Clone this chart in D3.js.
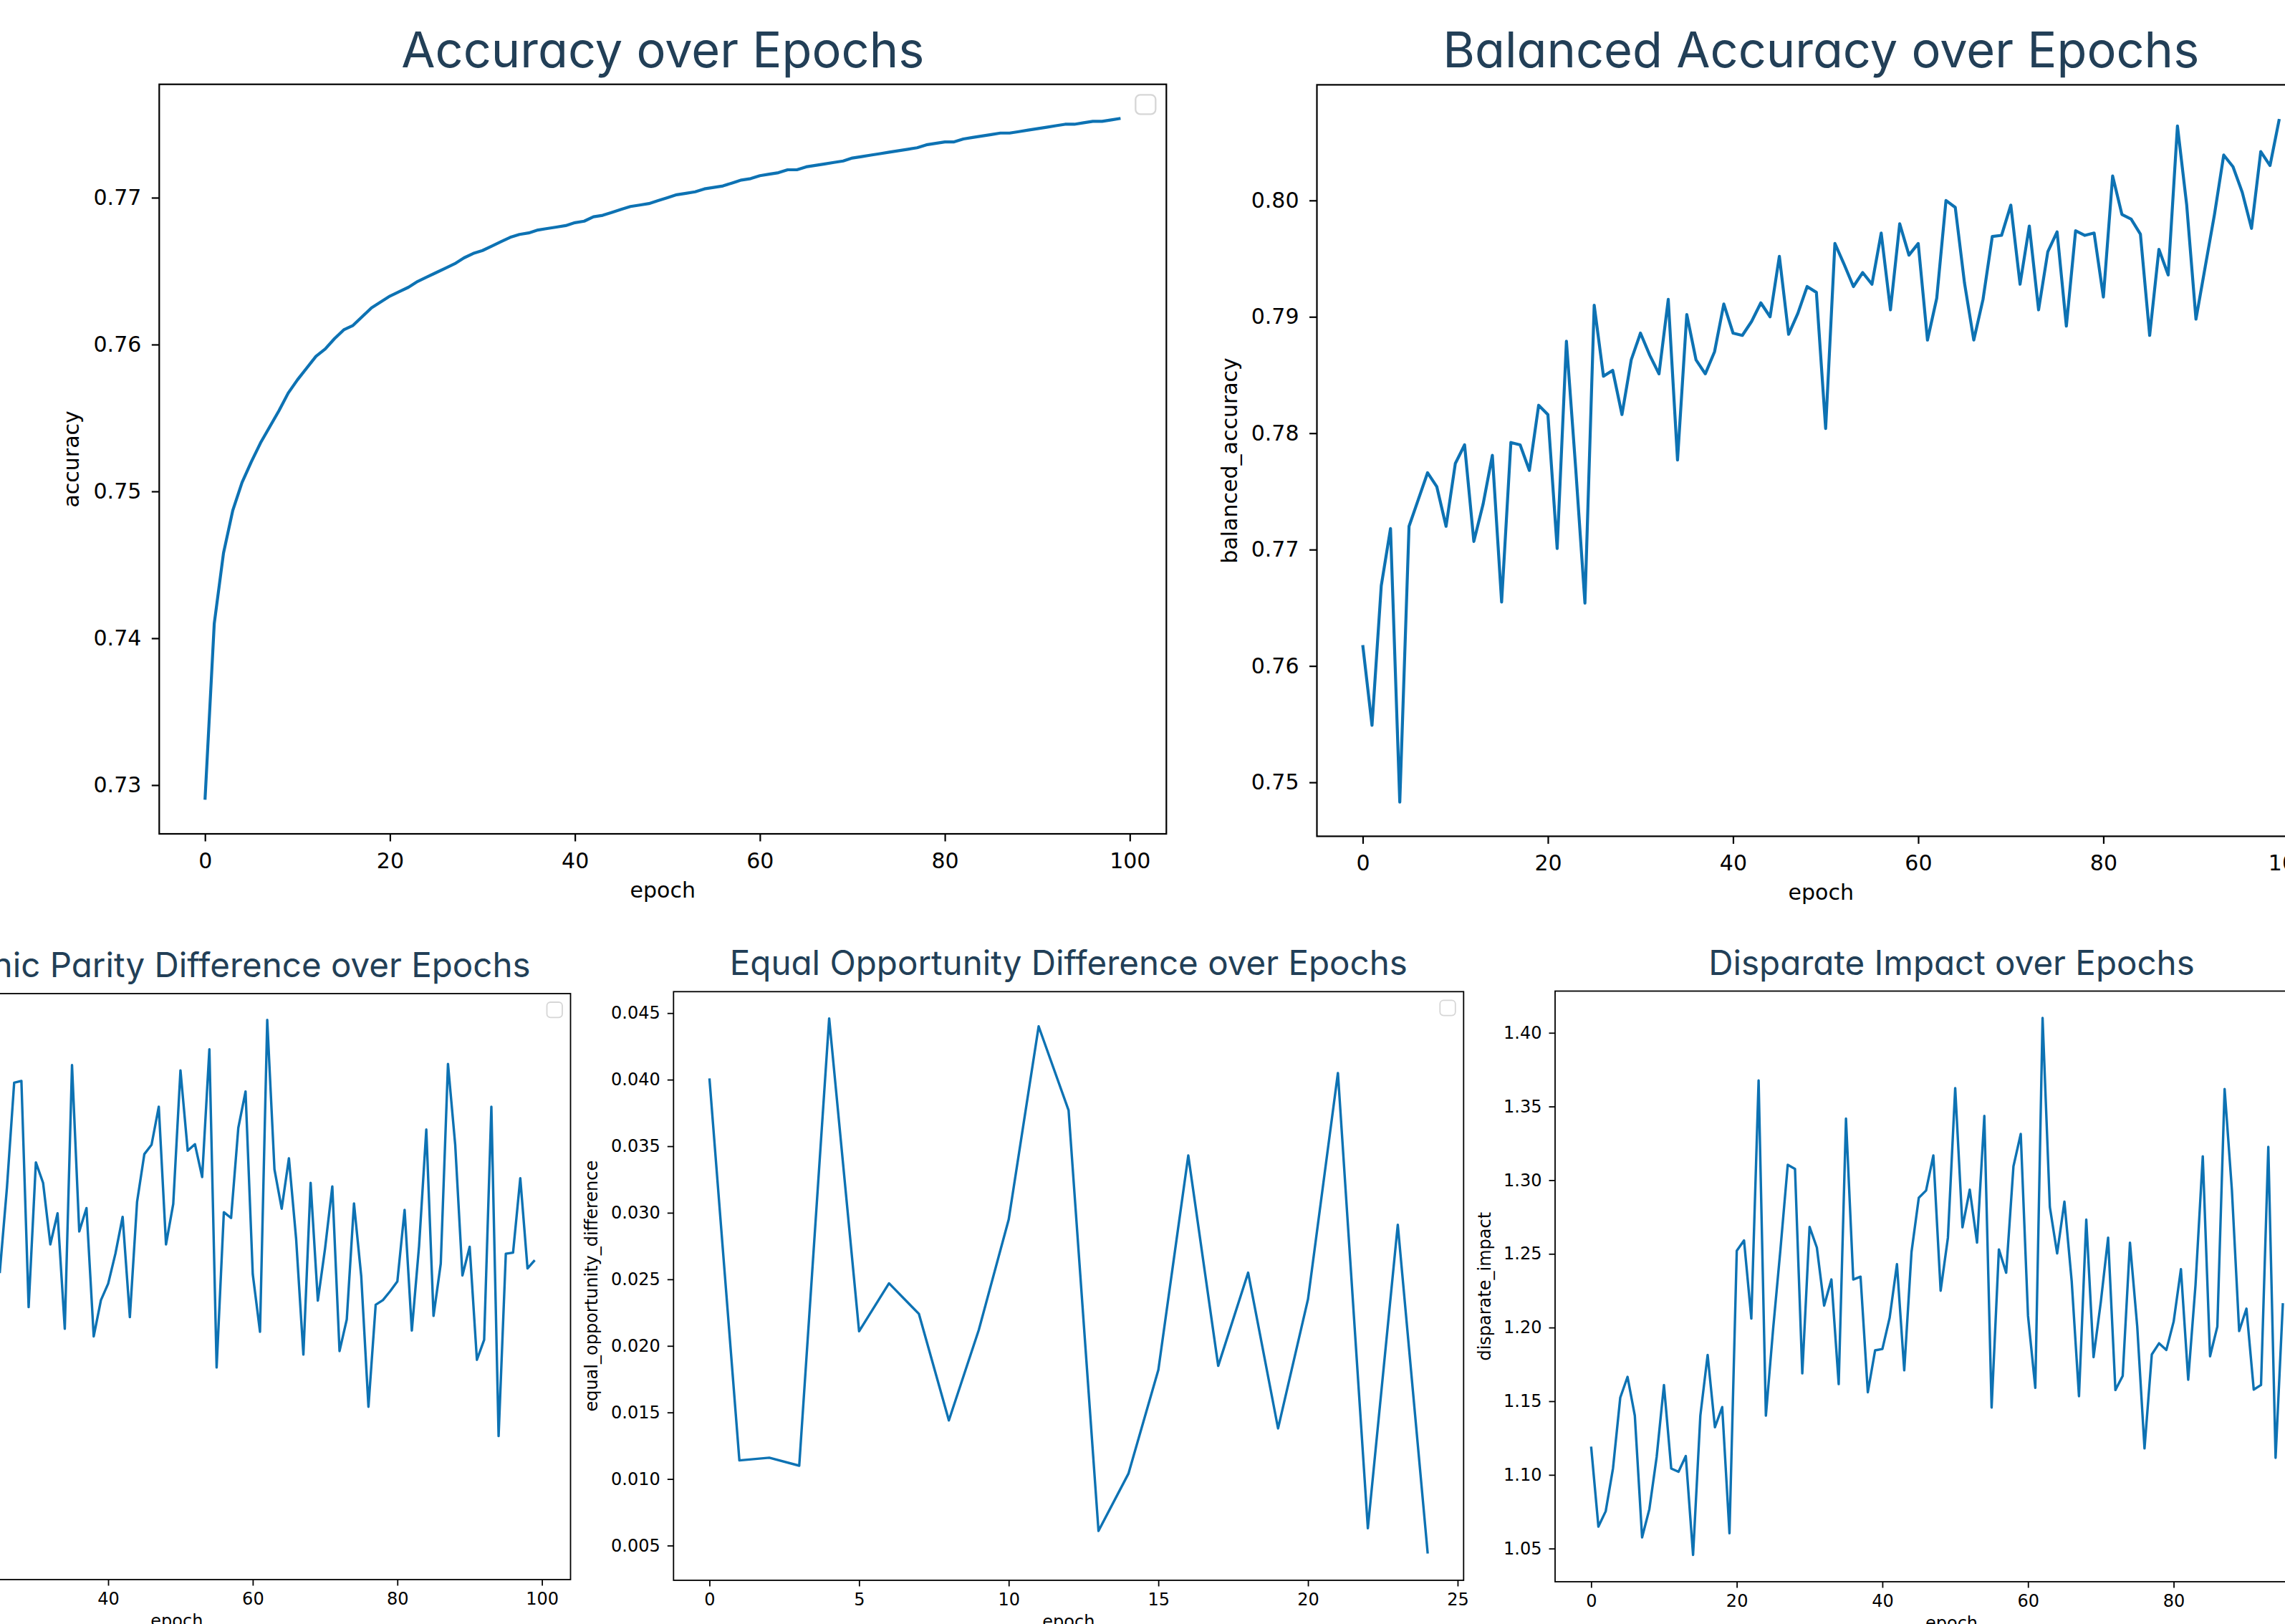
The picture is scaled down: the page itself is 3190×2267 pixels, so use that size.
<!DOCTYPE html>
<html>
<head>
<meta charset="utf-8">
<title>Training metrics over epochs</title>
<script src="https://d3js.org/d3.v7.min.js"></script>
<style>
  body { margin: 0; overflow: hidden; background: #fff; }
  svg { display: block; background: #fff; }
  .title { font-family: Inter, "Noto Sans", sans-serif; font-feature-settings: "cv11" 1; fill: #223f57; }
  .lbl { font-family: "DejaVu Sans", sans-serif; fill: #000; }
</style>
</head>
<body>
<svg width="3190" height="2267"></svg>
<script>
// values, one per epoch
const accuracy = [
  0.7290, 0.7410, 0.7458, 0.7487, 0.7506, 0.7520, 0.7533, 0.7544, 0.7555, 0.7567,
  0.7576, 0.7584, 0.7592, 0.7597, 0.7604, 0.7610, 0.7613, 0.7619, 0.7625, 0.7629,
  0.7633, 0.7636, 0.7639, 0.7643, 0.7646, 0.7649, 0.7652, 0.7655, 0.7659, 0.7662,
  0.7664, 0.7667, 0.7670, 0.7673, 0.7675, 0.7676, 0.7678, 0.7679, 0.7680, 0.7681,
  0.7683, 0.7684, 0.7687, 0.7688, 0.7690, 0.7692, 0.7694, 0.7695, 0.7696, 0.7698,
  0.7700, 0.7702, 0.7703, 0.7704, 0.7706, 0.7707, 0.7708, 0.7710, 0.7712, 0.7713,
  0.7715, 0.7716, 0.7717, 0.7719, 0.7719, 0.7721, 0.7722, 0.7723, 0.7724, 0.7725,
  0.7727, 0.7728, 0.7729, 0.7730, 0.7731, 0.7732, 0.7733, 0.7734, 0.7736, 0.7737,
  0.7738, 0.7738, 0.7740, 0.7741, 0.7742, 0.7743, 0.7744, 0.7744, 0.7745, 0.7746,
  0.7747, 0.7748, 0.7749, 0.7750, 0.7750, 0.7751, 0.7752, 0.7752, 0.7753, 0.7754
];
const balancedAccuracy = [
  0.7618, 0.7549, 0.7669, 0.7718, 0.7483, 0.7720, 0.7743, 0.7766, 0.7754, 0.7720,
  0.7774, 0.7790, 0.7707, 0.7739, 0.7781, 0.7655, 0.7792, 0.7790, 0.7768, 0.7824,
  0.7816, 0.7701, 0.7879, 0.7770, 0.7654, 0.7910, 0.7849, 0.7854, 0.7816, 0.7863,
  0.7886, 0.7867, 0.7851, 0.7915, 0.7777, 0.7902, 0.7863, 0.7851, 0.7870, 0.7911,
  0.7886, 0.7884, 0.7896, 0.7912, 0.7900, 0.7952, 0.7885, 0.7903, 0.7926, 0.7921,
  0.7804, 0.7963, 0.7945, 0.7926, 0.7938, 0.7928, 0.7972, 0.7906, 0.7980, 0.7953,
  0.7963, 0.7880, 0.7916, 0.8000, 0.7994, 0.7929, 0.7880, 0.7915, 0.7969, 0.7970,
  0.7996, 0.7928, 0.7978, 0.7906, 0.7956, 0.7973, 0.7892, 0.7974, 0.7970, 0.7972,
  0.7917, 0.8021, 0.7988, 0.7984, 0.7971, 0.7884, 0.7958, 0.7936, 0.8064, 0.7996,
  0.7898, 0.7943, 0.7988, 0.8039, 0.8029, 0.8007, 0.7976, 0.8042, 0.8030, 0.8070
];
// demographic parity: only epochs 25..99 are inside the picture
const demParityFirstEpoch = 25;
const demographicParity = [
  0.0723, 0.0869, 0.1048, 0.1051, 0.0665,
  0.0912, 0.0877, 0.0772, 0.0825, 0.0628, 0.1078, 0.0794, 0.0834, 0.0615, 0.0677,
  0.0705, 0.0756, 0.0819, 0.0648, 0.0845, 0.0926, 0.0942, 0.1007, 0.0772, 0.0841,
  0.1069, 0.0932, 0.0943, 0.0887, 0.1105, 0.0562, 0.0827, 0.0817, 0.0971, 0.1033,
  0.0721, 0.0623, 0.1155, 0.0900, 0.0833, 0.0919, 0.0781, 0.0584, 0.0877, 0.0676,
  0.0765, 0.0871, 0.0590, 0.0644, 0.0842, 0.0718, 0.0495, 0.0669, 0.0677, 0.0692,
  0.0709, 0.0831, 0.0625, 0.0769, 0.0968, 0.0650, 0.0739, 0.1080, 0.0942, 0.0719,
  0.0768, 0.0575, 0.0609, 0.1007, 0.0445, 0.0756, 0.0758, 0.0885, 0.0731, 0.0745
];
const equalOpportunity = [
  0.0401, 0.0114, 0.0116, 0.0110, 0.0446, 0.0211, 0.0247, 0.0224, 0.0144, 0.0212,
  0.0295, 0.0440, 0.0377, 0.0061, 0.0104, 0.0182, 0.0343, 0.0185, 0.0255, 0.0138,
  0.0235, 0.0405, 0.0063, 0.0291, 0.0044
];
// disparate impact: epochs 0..95 visible, the rest runs off the right edge
const disparateImpact = [
  1.1192, 1.0649, 1.0753, 1.1043, 1.1524, 1.1665, 1.1402, 1.0576, 1.0768, 1.1122,
  1.1610, 1.1043, 1.1021, 1.1128, 1.0457, 1.1402, 1.1814, 1.1323, 1.1460, 1.0604,
  1.2521, 1.2591, 1.2061, 1.3677, 1.1402, 1.1994, 1.2530, 1.3104, 1.3076, 1.1689,
  1.2683, 1.2543, 1.2149, 1.2326, 1.1616, 1.3418, 1.2326, 1.2345, 1.1561, 1.1845,
  1.1854, 1.2067, 1.2430, 1.1710, 1.2512, 1.2881, 1.2930, 1.3168, 1.2250, 1.2610,
  1.3625, 1.2680, 1.2936, 1.2576, 1.3436, 1.1457, 1.2530, 1.2372, 1.3094, 1.3314,
  1.2079, 1.1591, 1.4101, 1.2817, 1.2503, 1.2854, 1.2314, 1.1534, 1.2732, 1.1799,
  1.2174, 1.2610, 1.1576, 1.1671, 1.2576, 1.2006, 1.1180, 1.1817, 1.1893, 1.1848,
  1.2040, 1.2396, 1.1646, 1.2287, 1.3162, 1.1805, 1.2006, 1.3619, 1.2933, 1.1976,
  1.2128, 1.1579, 1.1610, 1.3226, 1.1116, 1.2165
];

// tick labels
const epochTicks100 = [0, 20, 40, 60, 80, 100];
const epochTicks25 = [0, 5, 10, 15, 20, 25];
const accuracyTicks = [0.73, 0.74, 0.75, 0.76, 0.77];
const balancedTicks = [0.75, 0.76, 0.77, 0.78, 0.79, 0.80];
const demParityTicks = [0.04, 0.06, 0.08, 0.10];
const equalOppTicks = [0.005, 0.010, 0.015, 0.020, 0.025, 0.030, 0.035, 0.040, 0.045];
const disparateTicks = [1.05, 1.10, 1.15, 1.20, 1.25, 1.30, 1.35, 1.40];

const svg = d3.select("svg");
const lineColor = "#0d72b3";

// layout of the two rows (top row drawn larger than bottom row)
const big = { tick: 10.5, yPad: 14.5, xPad: 16, font: 30, titleSize: 68.5, titleGap: 24,
              xlabel: 89, spine: 2.2, lw: 4.2, leg: [28, 27, 15, 14.6, 6.5, 2.3] };
const small = { tick: 8.5, yPad: 10, xPad: 9.5, font: 24, titleSize: 47.5, titleGap: 23,
                xlabel: 66, spine: 1.8, lw: 3.4, leg: [21.5, 21.3, 11.5, 12, 5, 1.8] };

const panels = [
  { title: "Accuracy over Epochs", ylabel: "accuracy", values: accuracy, first: 0, n: 100,
    xTicks: epochTicks100, yTicks: accuracyTicks, fmt: ".2f", box: [222.3, 117.7, 1406, 1046.3],
    ylab: 112, st: big },
  { title: "Balanced Accuracy over Epochs", ylabel: "balanced_accuracy", values: balancedAccuracy, first: 0, n: 100,
    xTicks: epochTicks100, yTicks: balancedTicks, fmt: ".2f", box: [1838.5, 118.4, 1407.5, 1049],
    ylab: 111.5, st: big },
  { title: "Demographic Parity Difference over Epochs", ylabel: "demographic_parity_difference",
    values: demographicParity, first: demParityFirstEpoch, n: 100, yDomain: [0.02, 0.12],
    xTicks: epochTicks100, yTicks: demParityTicks, fmt: ".2f", box: [-302.7, 1387, 1099.2, 818],
    ylab: 95, st: small },
  { title: "Equal Opportunity Difference over Epochs", ylabel: "equal_opportunity_difference",
    values: equalOpportunity, first: 0, n: 25,
    xTicks: epochTicks25, yTicks: equalOppTicks, fmt: ".3f", box: [940.3, 1384.3, 1103, 821.7],
    ylab: 106, st: small },
  { title: "Disparate Impact over Epochs", ylabel: "disparate_impact", values: disparateImpact, first: 0, n: 100,
    xTicks: epochTicks100, yTicks: disparateTicks, fmt: ".2f", box: [2171, 1383.5, 1107, 824.5],
    ylab: 90, st: small }
];

function drawPanel(p) {
  const [bx, by, bw, bh] = p.box;
  const st = p.st;
  const g = svg.append("g").attr("transform", `translate(${bx},${by})`);

  // matplotlib style 5% margins
  const x = d3.scaleLinear().domain([-(p.n - 1) * 0.05, (p.n - 1) * 1.05]).range([0, bw]);
  let yDom = p.yDomain;
  if (!yDom) {
    const [lo, hi] = d3.extent(p.values);
    const m = (hi - lo) * 0.05;
    yDom = [lo - m, hi + m];
  }
  const y = d3.scaleLinear().domain(yDom).range([bh, 0]);

  const line = d3.line()
    .x((d, i) => x(p.first + i))
    .y(d => y(d));

  g.append("path")
    .datum(p.values)
    .attr("d", line)
    .attr("fill", "none")
    .attr("stroke", lineColor)
    .attr("stroke-width", st.lw)
    .attr("stroke-linejoin", "round");

  const xAxis = g.append("g")
    .attr("transform", `translate(0,${bh})`)
    .call(d3.axisBottom(x).tickValues(p.xTicks).tickFormat(d3.format("d"))
      .tickSize(st.tick).tickPadding(st.xPad));
  const yAxis = g.append("g")
    .call(d3.axisLeft(y).tickValues(p.yTicks).tickFormat(d3.format(p.fmt))
      .tickSize(st.tick).tickPadding(st.yPad));

  [xAxis, yAxis].forEach(a => {
    a.select(".domain").remove();
    a.attr("font-family", "DejaVu Sans").attr("font-size", st.font);
    a.selectAll(".tick line").attr("stroke", "#000").attr("stroke-width", st.spine);
    a.selectAll(".tick text").attr("fill", "#000");
  });

  // axes frame
  g.append("rect")
    .attr("width", bw).attr("height", bh)
    .attr("fill", "none").attr("stroke", "#000").attr("stroke-width", st.spine);

  // empty legend frame
  const [lw, lh, lr, lt, rad, lsw] = st.leg;
  g.append("rect")
    .attr("x", bw - lr - lw).attr("y", lt)
    .attr("width", lw).attr("height", lh).attr("rx", rad)
    .attr("fill", "#fff").attr("stroke", "#d6d6d6").attr("stroke-width", lsw);

  g.append("text").attr("class", "title")
    .attr("x", bw / 2).attr("y", -st.titleGap)
    .attr("text-anchor", "middle")
    .attr("font-size", st.titleSize)
    .text(p.title);

  g.append("text").attr("class", "lbl")
    .attr("x", bw / 2).attr("y", bh + st.xlabel)
    .attr("text-anchor", "middle").attr("font-size", st.font)
    .text("epoch");

  g.append("text").attr("class", "lbl")
    .attr("transform", `translate(${-p.ylab},${bh / 2}) rotate(-90)`)
    .attr("text-anchor", "middle").attr("font-size", st.font)
    .text(p.ylabel);
}

panels.forEach(drawPanel);
</script>
</body>
</html>
